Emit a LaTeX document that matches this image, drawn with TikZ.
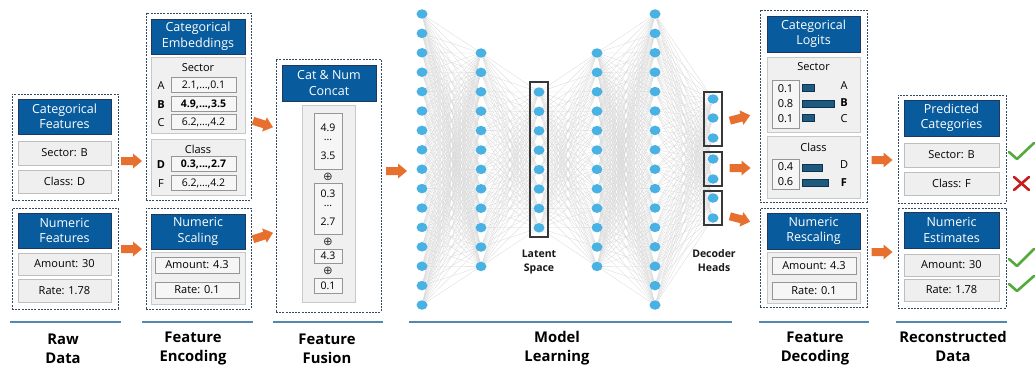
\documentclass[tikz,border=0pt]{standalone}
\usepackage{fontspec}
\setmainfont{Open Sans}
\newfontfamily\symfont{DejaVu Sans}
\usetikzlibrary{shapes.geometric,backgrounds}

\definecolor{hdrblue}{RGB}{8,92,158}
\definecolor{hdrline}{RGB}{30,56,96}
\definecolor{dashcol}{RGB}{52,74,98}
\definecolor{rowfill}{RGB}{239,239,239}
\definecolor{rowline}{RGB}{190,190,190}
\definecolor{panelfill}{RGB}{240,240,240}
\definecolor{panelline}{RGB}{200,200,200}
\definecolor{vfill}{RGB}{246,246,246}
\definecolor{vline}{RGB}{150,150,150}
\definecolor{neuroncol}{RGB}{74,177,227}
\definecolor{edgecol}{RGB}{218,218,218}
\definecolor{boxline}{RGB}{55,55,55}
\definecolor{arrowcol}{RGB}{232,112,46}
\definecolor{stagecol}{RGB}{84,136,172}
\definecolor{barcol}{RGB}{30,90,125}
\definecolor{barline}{RGB}{15,50,80}
\definecolor{okgreen}{RGB}{84,170,60}
\definecolor{badred}{RGB}{200,28,28}

\tikzset{
  x=1pt, y=-1pt,
  grp/.style={draw=dashcol, line width=0.9pt, dash pattern=on 2pt off 1.2pt, fill=white, inner sep=0pt},
  hdr/.style={fill=hdrblue, draw=hdrline, line width=0.8pt, text=white, align=center, inner sep=0pt,
    font=\fontsize{12.5}{15.5}\selectfont},
  row/.style={fill=rowfill, draw=rowline, line width=0.8pt, inner sep=0pt, font=\fontsize{11}{13}\selectfont},
  panel/.style={fill=panelfill, draw=panelline, line width=0.8pt, inner sep=0pt},
  vbox/.style={fill=vfill, draw=vline, line width=0.7pt, inner sep=0pt, font=\fontsize{10.5}{12}\selectfont},
  lbl/.style={inner sep=0pt, font=\fontsize{11}{13}\selectfont},
  small/.style={inner sep=0pt, font=\fontsize{10.5}{12}\selectfont},
  concat/.style={inner sep=0pt, font=\symfont\fontsize{11.5}{11.5}\selectfont, text=black!80},
  neuron/.style={ellipse, fill=neuroncol, minimum width=11pt, minimum height=9.5pt, inner sep=0pt},
  edge/.style={draw=edgecol, line width=0.3pt},
  headbox/.style={draw=boxline, line width=1.1pt, inner sep=0pt},
  netlbl/.style={align=center, inner sep=0pt, font=\bfseries\fontsize{10.5}{14}\selectfont, text=black!90},
  stage/.style={align=center, inner sep=0pt, font=\bfseries\fontsize{14.8}{19}\selectfont},
  stageline/.style={draw=stagecol, line width=1.1pt},
  bar/.style={fill=barcol, draw=barline, line width=0.5pt, inner sep=0pt, anchor=west, minimum height=7pt},
  tick/.style={draw=okgreen, line width=2.6pt, line cap=round, line join=round},
  cross/.style={draw=badred, line width=2.6pt, line cap=round},
  blockarrow/.pic={\fill[arrowcol] (-10.5,-4) -- (1.5,-4) -- (1.5,-7.5) -- (10.5,0)
     -- (1.5,7.5) -- (1.5,4) -- (-10.5,4) -- cycle;}
}

% box helper: name, style, centre x, centre y, width, height, text
\newcommand\bx[7]{\node[#2, minimum width=#5pt, minimum height=#6pt] (#1) at (#3,#4) {#7};}

\begin{document}
\begin{tikzpicture}
\useasboundingbox (0,0) rectangle (1036,367);
\begin{scope}[on background layer]
  \fill[white] (0,0) rectangle (1036,367);
\end{scope}

% ---------------- Raw data ----------------
\bx{rawCatG}{grp}{65}{147}{106}{106}{}
\bx{rawCatH}{hdr}{64.5}{116.5}{93}{35}{Categorical\\Features}
\bx{rawSec}{row}{64.5}{153}{93}{24}{Sector: B}
\bx{rawCls}{row}{64.5}{181.5}{93}{23}{Class: D}
\bx{rawNumG}{grp}{65}{258.5}{106}{101}{}
\bx{rawNumH}{hdr}{64.5}{230.5}{93}{35}{Numeric\\Features}
\bx{rawAmt}{row}{64.5}{264}{93}{22}{Amount: 30}
\bx{rawRate}{row}{64.5}{290.5}{93}{23}{Rate: 1.78}

% ---------------- Feature encoding ----------------
\bx{encCatG}{grp}{198.5}{106.5}{105}{187}{}
\bx{encCatH}{hdr}{198}{36.5}{94}{35}{Categorical\\Embeddings}
\bx{encSecP}{panel}{198}{95}{94}{76}{}
\node[lbl] (encSecT) at (198,68) {Sector};
\node[lbl] (encA) at (161,86) {A};
\bx{encAv}{vbox}{203.5}{85}{65}{15}{2.1,...,0.1}
\node[lbl] (encB) at (161,105) {\bfseries B};
\bx{encBv}{vbox}{203.5}{104}{65}{15}{\bfseries 4.9,...,3.5}
\node[lbl] (encC) at (161,123) {C};
\bx{encCv}{vbox}{203.5}{122}{65}{15}{6.2,...,4.2}
\bx{encClsP}{panel}{198}{167}{94}{56}{}
\node[lbl] (encClsT) at (198,149) {Class};
\node[lbl] (encD) at (161,165) {\bfseries D};
\bx{encDv}{vbox}{203.5}{164}{65}{15}{\bfseries 0.3,...,2.7}
\node[lbl] (encF) at (161,184) {F};
\bx{encFv}{vbox}{203.5}{183}{65}{15}{6.2,...,4.2}

\bx{encNumG}{grp}{198.5}{258.5}{105}{101}{}
\bx{encNumH}{hdr}{198}{231.5}{94}{35}{Numeric\\Scaling}
\bx{encNumP}{panel}{198}{278}{94}{52}{}
\bx{encAmt}{vbox}{197}{265}{84}{16}{\fontsize{11}{13}\selectfont Amount: 4.3}
\bx{encRate}{vbox}{197}{290}{84}{16}{\fontsize{11}{13}\selectfont Rate: 0.1}

% ---------------- Feature fusion ----------------
\bx{fusG}{grp}{328.5}{185.5}{105}{253}{}
\bx{fusH}{hdr}{329}{83}{94}{36}{Cat \& Num\\Concat}
\bx{fusP}{panel}{328.5}{203.5}{53}{197}{}
\bx{fusB1}{vbox}{328}{141}{28}{56}{}
\node[small] at (328,128) {4.9};
\node[small] at (328,140) {...};
\node[small] at (328,156) {3.5};
\node[concat] (fusO1) at (328,176.5) {⊕};
\bx{fusB2}{vbox}{328}{208.5}{28}{51}{}
\node[small] at (328,194) {0.3};
\node[small] at (328,206) {...};
\node[small] at (328,222) {2.7};
\node[concat] (fusO2) at (328,241.5) {⊕};
\bx{fusB3}{vbox}{328}{256}{28}{14}{4.3}
\node[concat] (fusO3) at (328,270.5) {⊕};
\bx{fusB4}{vbox}{328}{285.5}{28}{15}{0.1}

% ---------------- Network ----------------
\foreach \i in {1,...,16} \node[neuron] (a\i) at (422,{14+19.4*(\i-1)}) {};
\foreach \i in {1,...,12} \node[neuron] (b\i) at (481,{53+19.4*(\i-1)}) {};
\foreach \i in {1,...,8}  \node[neuron] (c\i) at (539,{92+19.4*(\i-1)}) {};
\foreach \i in {1,...,12} \node[neuron] (d\i) at (597,{53+19.4*(\i-1)}) {};
\foreach \i in {1,...,16} \node[neuron] (e\i) at (655,{14+19.4*(\i-1)}) {};
\foreach \y [count=\i] in {99,118,138,159,179,198,218} \node[neuron] (h\i) at (713,\y) {};

\begin{scope}[on background layer]
  \foreach \i in {1,...,16} \foreach \j in {1,...,12} \draw[edge] (a\i) -- (b\j);
  \foreach \i in {1,...,12} \foreach \j in {1,...,8}  \draw[edge] (b\i) -- (c\j);
  \foreach \i in {1,...,8}  \foreach \j in {1,...,12} \draw[edge] (c\i) -- (d\j);
  \foreach \i in {1,...,12} \foreach \j in {1,...,16} \draw[edge] (d\i) -- (e\j);
  \foreach \i in {1,...,16} \foreach \j in {1,...,7}  \draw[edge] (e\i) -- (h\j);
\end{scope}

\bx{latBox}{headbox}{539}{159.5}{18}{155}{}
\bx{head1}{headbox}{713}{119}{18}{54}{}
\bx{head2}{headbox}{713}{169}{18}{34}{}
\bx{head3}{headbox}{713}{208}{18}{34}{}
\node[netlbl] (latLbl) at (539,262) {Latent\\Space};
\node[netlbl] (headLbl) at (714,261) {Decoder\\Heads};

% ---------------- Feature decoding ----------------
\bx{decCatG}{grp}{813.5}{106}{107}{192}{}
\bx{decCatH}{hdr}{813.5}{34}{93}{36}{Categorical\\Logits}
\bx{decSecP}{panel}{813.5}{94.5}{93}{75}{}
\node[lbl] (decSecT) at (813.5,67) {Sector};
\bx{decSecV}{vbox}{785.5}{104}{27}{48}{}
\node[lbl] at (785.5,89) {0.1};
\node[lbl] at (785.5,104) {0.8};
\node[lbl] at (785.5,119) {0.1};
\node[bar, minimum width=12pt] (barA) at (802,88) {};
\node[bar, minimum width=32pt] (barB) at (802,104) {};
\node[bar, minimum width=12pt] (barC) at (802,118) {};
\node[lbl] at (844,86) {A};
\node[lbl] at (844,103) {\bfseries B};
\node[lbl] at (844,119) {C};
\bx{decClsP}{panel}{813.5}{167}{93}{62}{}
\node[lbl] (decClsT) at (813.5,147) {Class};
\bx{decClsV}{vbox}{785.5}{174}{27}{30}{}
\node[lbl] at (785.5,167) {0.4};
\node[lbl] at (785.5,182) {0.6};
\node[bar, minimum width=20pt] (barD) at (802,168) {};
\node[bar, minimum width=26pt] (barF) at (802,183) {};
\node[lbl] at (844,165) {D};
\node[lbl] at (844,183) {\bfseries F};

\bx{decNumG}{grp}{813.5}{257.5}{107}{99}{}
\bx{decNumH}{hdr}{813.5}{231}{93}{36}{Numeric\\Rescaling}
\bx{decNumP}{panel}{813.5}{277.5}{93}{51}{}
\bx{decAmt}{vbox}{814}{265.5}{84}{17}{\fontsize{11}{13}\selectfont Amount: 4.3}
\bx{decRate}{vbox}{814}{290.5}{84}{17}{\fontsize{11}{13}\selectfont Rate: 0.1}

% ---------------- Reconstructed data ----------------
\bx{recCatG}{grp}{952}{149}{108}{108}{}
\bx{recCatH}{hdr}{951.5}{118}{95}{36}{Predicted\\Categories}
\bx{recSec}{row}{951.5}{155}{95}{24}{Sector: B}
\bx{recCls}{row}{951.5}{183.5}{95}{23}{Class: F}
\bx{recNumG}{grp}{952}{258}{108}{100}{}
\bx{recNumH}{hdr}{951.5}{230}{95}{36}{Numeric\\Estimates}
\bx{recAmt}{row}{951.5}{265}{95}{22}{Amount: 30}
\bx{recRate}{row}{951.5}{290}{95}{22}{Rate: 1.78}

% verdict marks
\draw[tick] (1009,152) -- (1017,159) -- (1034,143);
\draw[cross] (1014,177) -- (1029,190);
\draw[cross] (1014,190) -- (1029,177);
\draw[tick] (1009,259) -- (1017,266) -- (1034,249);
\draw[tick] (1009,284) -- (1017,291) -- (1034,276);

% ---------------- Flow arrows ----------------
\pic at (131.5,161) {blockarrow};
\pic at (131.5,249) {blockarrow};
\pic[rotate=-18] at (263,124) {blockarrow};
\pic[rotate=18] at (263,236) {blockarrow};
\pic at (396.5,171) {blockarrow};
\pic[rotate=15] at (740,118) {blockarrow};
\pic at (740,168) {blockarrow};
\pic[rotate=-15] at (740,219) {blockarrow};
\pic at (882,160) {blockarrow};
\pic at (882,252) {blockarrow};

% ---------------- Stage labels ----------------
\draw[stageline] (10,322) coordinate (s1a) -- (121,322) coordinate (s1b);
\draw[stageline] (142,322) coordinate (s2a) -- (253,322) coordinate (s2b);
\draw[stageline] (273,322) coordinate (s3a) -- (383,322) coordinate (s3b);
\draw[stageline] (409,322) coordinate (s4a) -- (732,322) coordinate (s4b);
\draw[stageline] (759,322) coordinate (s5a) -- (869,322) coordinate (s5b);
\draw[stageline] (896,322) coordinate (s6a) -- (1007,322) coordinate (s6b);
\node[stage] (stRaw) at (63,348.5) {Raw\\Data};
\node[stage] (stEnc) at (193,348.5) {Feature\\Encoding};
\node[stage] (stFus) at (327,348.5) {Feature\\Fusion};
\node[stage] (stMod) at (557,348.5) {Model\\Learning};
\node[stage] (stDec) at (815,348.5) {Feature\\Decoding};
\node[stage] (stRec) at (953,346) {Reconstructed\\Data};
\end{tikzpicture}
\end{document}
